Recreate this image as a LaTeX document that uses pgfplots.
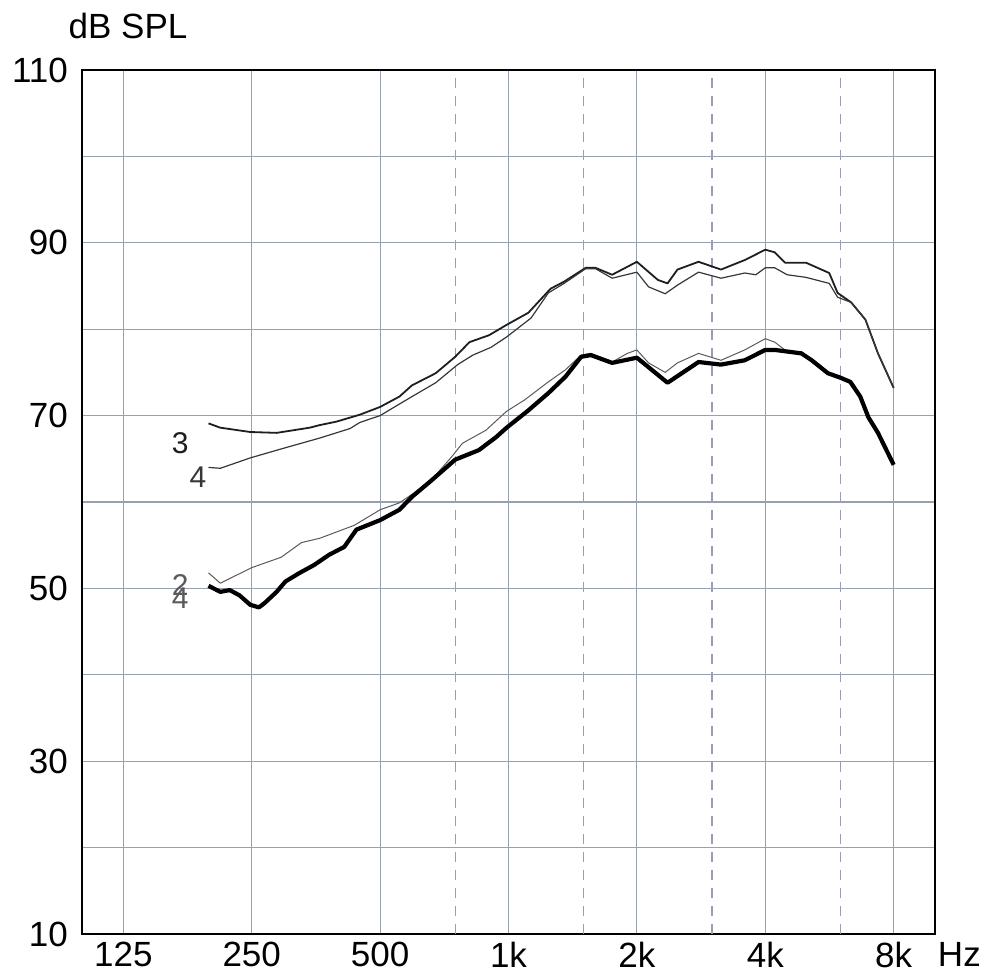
\documentclass[border=0pt]{standalone}
\usepackage{fontspec}
\setmainfont{Liberation Sans}
\usepackage{pgfplots}
\pgfplotsset{compat=1.18}
\definecolor{gridc}{RGB}{150,160,176}
\definecolor{c3}{RGB}{30,30,30}
\definecolor{c4}{RGB}{55,55,55}
\definecolor{c2}{RGB}{90,90,90}
\begin{document}
\begin{tikzpicture}
\begin{axis}[
  scale only axis,
  width=426.5pt, height=432pt,
  xmode=log, log basis x=2,
  xmin=100, xmax=10000,
  ymin=10, ymax=110,
  xtick={125,250,500,1000,2000,4000,8000},
  xticklabels={125,250,500,1k,2k,4k,8k},
  minor xtick={},
  extra x ticks={750,1500,3000,6000},
  extra x tick labels={},
  extra x tick style={grid=major, major grid style={gridc, line width=0.6pt, dash pattern=on 5pt off 4pt}},
  ytick={10,30,50,70,90,110},
  minor ytick={20,40,60,80,100},
  grid=both,
  major grid style={gridc, line width=0.6pt},
  minor grid style={gridc, line width=0.6pt},
  major tick length=0pt, minor tick length=0pt,
  axis line style={black, line width=1.2pt},
  tick label style={font=\fontsize{17.5}{20}\selectfont, black},
  yticklabel style={xshift=-3.5pt},
  xticklabel style={inner sep=1pt, yshift=-3pt},
  /pgf/number format/assume math mode=true,
  log ticks with fixed point,
  clip=false,
]
\path (rel axis cs:-0.0961,-0.0475) rectangle (rel axis cs:1.0598,1.081);
% curve 3 upper
\addplot[c3, line width=0.9pt, line join=round] coordinates {
(198,69.1) (211,68.6) (248,68.1) (286,68.0) (342,68.6) (361,68.9) (395,69.3) (448,70.1) (500,71.0) (555,72.2) (594,73.5) (675,74.9) (750,76.8) (810,78.5) (900,79.3) (990,80.5) (1113,81.9) (1256,84.7) (1350,85.5) (1517,87.1) (1600,87.1) (1750,86.3) (2000,87.8) (2240,85.7) (2360,85.3) (2490,86.9) (2790,87.8) (3150,86.9) (3580,88.0) (4000,89.2) (4210,88.9) (4450,87.7) (4980,87.7) (5650,86.5) (5910,84.2) (6360,83.1) (6870,81.1) (7350,77.2) (8000,73.2)
};
% curve 4 upper
\addplot[c4, line width=0.6pt, line join=round] coordinates {
(198,64.0) (211,63.9) (248,65.1) (296,66.2) (361,67.4) (425,68.5) (448,69.2) (500,70.0) (594,72.2) (675,73.8) (760,75.9) (825,77.0) (910,77.9) (990,79.1) (1130,81.3) (1240,84.2) (1350,85.3) (1517,87.0) (1600,87.0) (1750,85.9) (2000,86.6) (2130,84.9) (2330,84.1) (2490,85.1) (2790,86.6) (3150,85.9) (3580,86.5) (3800,86.3) (4000,87.1) (4210,87.1) (4500,86.3) (4980,86.0) (5650,85.3) (5910,83.7) (6360,83.1) (6870,81.1) (7350,77.2) (8000,73.2)
};
% curve 2 lower thin
\addplot[c2, line width=0.5pt, line join=round] coordinates {
(198,51.8) (211,50.6) (250,52.4) (293,53.6) (327,55.3) (361,55.8) (435,57.3) (500,59.1) (555,59.9) (650,62.2) (735,65.2) (780,66.8) (885,68.3) (990,70.5) (1090,71.8) (1240,73.9) (1360,75.3) (1480,77.0) (1560,77.2) (1750,76.2) (1900,77.2) (2000,77.6) (2130,76.1) (2330,75.0) (2490,76.1) (2790,77.2) (3150,76.4) (3580,77.6) (4000,78.9) (4210,78.5) (4500,77.4) (4860,77.4) (5140,76.4) (5610,74.9) (5990,74.4) (6330,73.9) (6680,72.2) (6980,69.8) (7350,68.0) (8000,64.3)
};
% curve 4 lower thick
\addplot[black, line width=2.1pt, line join=round] coordinates {
(198,50.3) (211,49.6) (222,49.8) (234,49.2) (248,48.1) (260,47.8) (268,48.3) (286,49.6) (300,50.8) (324,51.8) (350,52.7) (380,53.9) (412,54.8) (440,56.8) (500,57.9) (555,59.1) (594,60.6) (660,62.5) (750,64.9) (852,66.0) (935,67.5) (990,68.6) (1113,70.6) (1240,72.6) (1360,74.5) (1480,76.8) (1560,77.0) (1750,76.1) (2000,76.7) (2360,73.8) (2790,76.2) (3150,75.9) (3580,76.4) (4000,77.6) (4210,77.6) (4860,77.2) (5140,76.4) (5610,74.9) (5990,74.4) (6330,73.9) (6680,72.2) (6980,69.8) (7350,68.0) (8000,64.3)
};
\node[c3, font=\fontsize{15}{17}\selectfont] at (axis cs:170,66.8) {3};
\node[c4, font=\fontsize{15}{17}\selectfont] at (axis cs:187,62.9) {4};
\node[c2, font=\fontsize{15}{17}\selectfont] at (axis cs:170,50.4) {2};
\node[c2, font=\fontsize{15}{17}\selectfont] at (axis cs:170,48.9) {4};
\node[anchor=base west, inner sep=0pt, font=\fontsize{17.5}{20}\selectfont] at (rel axis cs:-0.016,1.037) {dB SPL};
\node[anchor=base west, inner sep=0pt, font=\fontsize{17.5}{20}\selectfont] at (rel axis cs:1.003,-0.038) {Hz};
\end{axis}
\end{tikzpicture}
\end{document}
